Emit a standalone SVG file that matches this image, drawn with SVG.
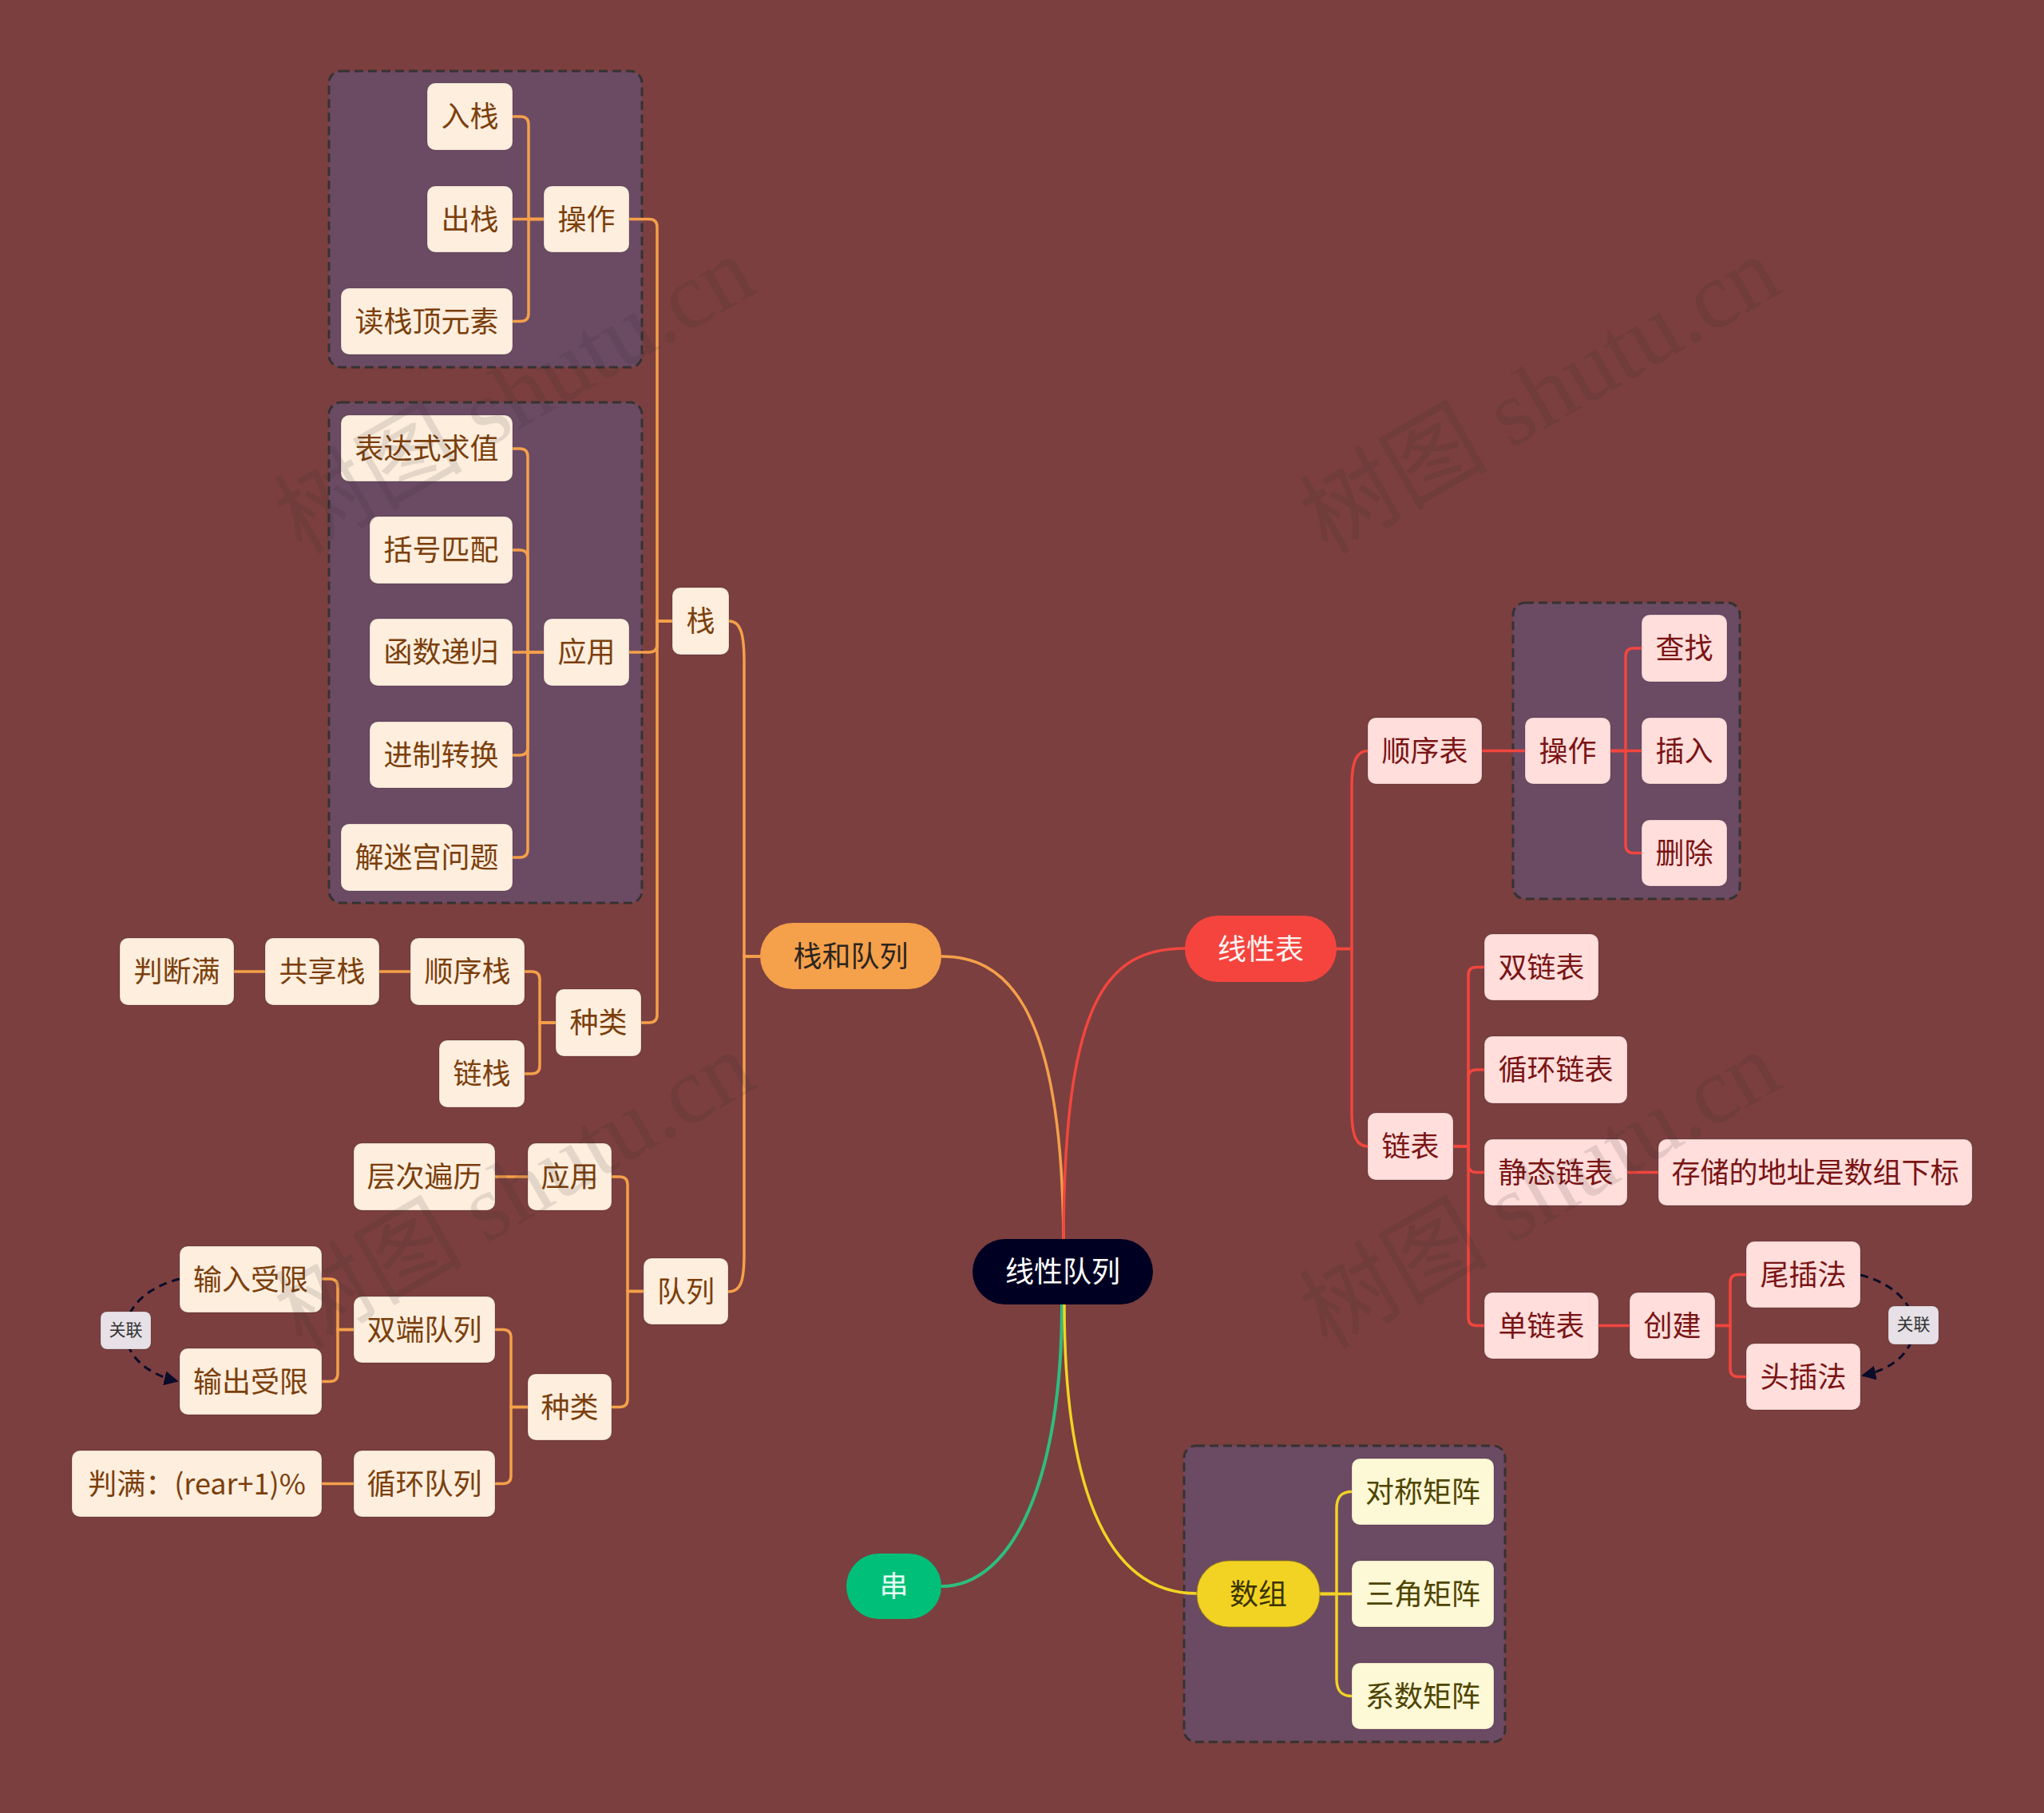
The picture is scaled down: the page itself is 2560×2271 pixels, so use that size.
<svg xmlns="http://www.w3.org/2000/svg" width="2560" height="2271" viewBox="0 0 2560 2271">
<defs>
<style>
text{font-family:"Noto Sans CJK SC","Noto Sans",sans-serif;font-size:36px;text-anchor:middle;dominant-baseline:central}
text:not(.wm){transform:translateY(-3px)}
.box{fill:#6B4A64;stroke:#363232;stroke-width:3;stroke-dasharray:11 6}
.o rect{fill:#FDEEDE;stroke:#000;stroke-opacity:0.12;stroke-width:1.5}
.o text{fill:#7B3F0C}
.r rect{fill:#FFDEDC;stroke:#000;stroke-opacity:0.12;stroke-width:1.5}
.r text{fill:#7A1414}
.y rect{fill:#FDF8D6;stroke:#000;stroke-opacity:0.12;stroke-width:1.5}
.y text{fill:#4E4400}
.lo{fill:none;stroke:#F5A04A;stroke-width:3.5}
.lr{fill:none;stroke:#F2463E;stroke-width:3.5}
.ly{fill:none;stroke:#F2D323;stroke-width:3.5}
.lg{fill:none;stroke:#2DBE80;stroke-width:4}
.rel{fill:none;stroke:#0B0B2A;stroke-width:3;stroke-dasharray:10 7}
.lab rect{fill:#E7E1E7;stroke:#000;stroke-opacity:0.15;stroke-width:1}
.lab text{fill:#333;font-size:21px}
.wm{font-family:"Liberation Serif","Noto Sans CJK SC",serif;font-size:118px;fill:#282828;fill-opacity:0.12;text-anchor:start;dominant-baseline:alphabetic}
</style>
<marker id="arr" viewBox="0 0 10 10" refX="9" refY="5" markerWidth="18" markerHeight="18" markerUnits="userSpaceOnUse" orient="auto">
<path d="M0,0 L10,5 L0,10 z" fill="#0B0B2A"/>
</marker>
</defs>
<rect width="2560" height="2271" fill="#7B3F3F"/>

<g id="boxes">
<rect class="box" x="412" y="89" width="392" height="371" rx="15"/>
<rect class="box" x="412" y="504" width="392" height="627" rx="15"/>
<rect class="box" x="1895" y="755" width="284" height="371" rx="15"/>
<rect class="box" x="1483" y="1811" width="402" height="371" rx="15"/>
</g>

<g id="connectors">
<path class="lo" d="M1179,1198 C1255,1198 1330,1250 1332,1552"/>
<path class="lr" d="M1332,1552 C1333,1255 1385,1188 1484,1188"/>
<path class="lg" d="M1330,1634 C1330,1850 1270,1987 1179,1987"/>
<path class="ly" d="M1333,1634 C1333,1850 1380,1996 1499,1996"/>

<path class="lo" d="M952,1198 H932 V830 C932,795 928,778 913,778"/>
<path class="lo" d="M952,1198 H932 V1570 C932,1605 928,1618 912,1618"/>

<path class="lo" d="M842,778 H823 V284.5 Q823,274.5 813,274.5 H788"/>
<path class="lo" d="M842,778 H823 V807 Q823,817 813,817 H788"/>
<path class="lo" d="M842,778 H823 V1271 Q823,1281 813,1281 H803"/>

<path class="lo" d="M681,274.5 H662 V156 Q662,146 652,146 H642"/>
<path class="lo" d="M681,274.5 H642"/>
<path class="lo" d="M681,274.5 H662 V392.5 Q662,402.5 652,402.5 H642"/>

<path class="lo" d="M681,817 H661 V572 Q661,562 651,562 H642"/>
<path class="lo" d="M681,817 H661 V699 Q661,689 651,689 H642"/>
<path class="lo" d="M681,817 H642"/>
<path class="lo" d="M681,817 H661 V936 Q661,946 651,946 H642"/>
<path class="lo" d="M681,817 H661 V1064 Q661,1074 651,1074 H642"/>

<path class="lo" d="M696,1281 H676 V1227 Q676,1217 666,1217 H657"/>
<path class="lo" d="M696,1281 H676 V1335 Q676,1345 666,1345 H657"/>
<path class="lo" d="M514,1217 H475"/>
<path class="lo" d="M332,1217 H293"/>

<path class="lo" d="M806,1617.5 H786 V1484 Q786,1474 776,1474 H766"/>
<path class="lo" d="M806,1617.5 H786 V1752.5 Q786,1762.5 776,1762.5 H766"/>
<path class="lo" d="M661,1474 H620"/>
<path class="lo" d="M661,1762.5 H640 V1675.5 Q640,1665.5 630,1665.5 H620"/>
<path class="lo" d="M661,1762.5 H640 V1848.5 Q640,1858.5 630,1858.5 H620"/>
<path class="lo" d="M443,1665.5 H423 V1612 Q423,1602 413,1602 H403"/>
<path class="lo" d="M443,1665.5 H423 V1720.5 Q423,1730.5 413,1730.5 H403"/>
<path class="lo" d="M443,1858.5 H403"/>

<path class="lr" d="M1674,1188.5 H1693 V985 C1693,952 1700,940.5 1713,940.5"/>
<path class="lr" d="M1674,1188.5 H1693 V1392 C1693,1425 1700,1436 1713,1436"/>
<path class="lr" d="M1856,940.5 H1910"/>
<path class="lr" d="M2017,940.5 H2036 V822 Q2036,812 2046,812 H2056"/>
<path class="lr" d="M2017,940.5 H2056"/>
<path class="lr" d="M2017,940.5 H2036 V1058.5 Q2036,1068.5 2046,1068.5 H2056"/>
<path class="lr" d="M1820,1436 H1839 V1221.5 Q1839,1211.5 1849,1211.5 H1859"/>
<path class="lr" d="M1820,1436 H1839 V1350 Q1839,1340 1849,1340 H1859"/>
<path class="lr" d="M1820,1436 H1839 V1458.5 Q1839,1468.5 1849,1468.5 H1859"/>
<path class="lr" d="M1820,1436 H1839 V1650.5 Q1839,1660.5 1849,1660.5 H1859"/>
<path class="lr" d="M2038,1468.5 H2077"/>
<path class="lr" d="M2002,1660.5 H2041"/>
<path class="lr" d="M2148,1660.5 H2167 V1606.5 Q2167,1596.5 2177,1596.5 H2187"/>
<path class="lr" d="M2148,1660.5 H2167 V1714.5 Q2167,1724.5 2177,1724.5 H2187"/>

<path class="ly" d="M1653,1996.5 H1674 V1890 C1674,1875 1680,1868.5 1693,1868.5"/>
<path class="ly" d="M1653,1996.5 H1693"/>
<path class="ly" d="M1653,1996.5 H1674 V2103 C1674,2118 1680,2124.5 1693,2124.5"/>

<path class="rel" d="M225,1602 C135,1625 135,1710 222,1730" marker-end="url(#arr)"/>
<path class="rel" d="M2330,1597 C2419,1620 2419,1705 2333,1723" marker-end="url(#arr)"/>
</g>

<g id="n-root"><rect x="1218" y="1552" width="226" height="82" rx="41" fill="#000022"/><text x="1331" y="1593" fill="#FFFFFF">线性队列</text></g>
<g id="n-zhdl"><rect x="952" y="1156" width="227" height="83" rx="41" fill="#F5A04A"/><text x="1065.5" y="1197.5" fill="#2B2520">栈和队列</text></g>
<g id="n-xxb"><rect x="1484" y="1147" width="190" height="83" rx="41" fill="#F5443E"/><text x="1579" y="1188.5" fill="#FFF4F2">线性表</text></g>
<g id="n-sz"><rect x="1499" y="1955" width="154" height="83" rx="40" fill="#F2D323" stroke="#8a7210" stroke-opacity="0.5" stroke-width="1.5"/><text x="1576" y="1996.5" fill="#3A3200">数组</text></g>
<g id="n-c"><rect x="1060" y="1946" width="119" height="82" rx="41" fill="#00BF78"/><text x="1119.5" y="1987" fill="#E4FFF2">串</text></g>

<g id="n-rz" class="o"><rect x="535" y="104" width="107" height="84" rx="10"/><text x="588.5" y="146">入栈</text></g>
<g id="n-cz" class="o"><rect x="535" y="233" width="107" height="83" rx="10"/><text x="588.5" y="274.5">出栈</text></g>
<g id="n-dzdys" class="o"><rect x="427" y="361" width="215" height="83" rx="10"/><text x="534.5" y="402.5">读栈顶元素</text></g>
<g id="n-cz2" class="o"><rect x="681" y="233" width="107" height="83" rx="10"/><text x="734.5" y="274.5">操作</text></g>
<g id="n-bds" class="o"><rect x="427" y="520" width="215" height="83" rx="10"/><text x="534.5" y="561.5">表达式求值</text></g>
<g id="n-khpp" class="o"><rect x="463" y="647" width="179" height="84" rx="10"/><text x="552.5" y="689">括号匹配</text></g>
<g id="n-hsdg" class="o"><rect x="463" y="775" width="179" height="84" rx="10"/><text x="552.5" y="817">函数递归</text></g>
<g id="n-jzzh" class="o"><rect x="463" y="904" width="179" height="83" rx="10"/><text x="552.5" y="945.5">进制转换</text></g>
<g id="n-jmg" class="o"><rect x="427" y="1032" width="215" height="84" rx="10"/><text x="534.5" y="1074">解迷宫问题</text></g>
<g id="n-yy" class="o"><rect x="681" y="775" width="107" height="84" rx="10"/><text x="734.5" y="817">应用</text></g>
<g id="n-z" class="o"><rect x="842" y="736" width="71" height="84" rx="10"/><text x="877.5" y="778">栈</text></g>
<g id="n-pdm" class="o"><rect x="150" y="1175" width="143" height="84" rx="10"/><text x="221.5" y="1217">判断满</text></g>
<g id="n-gxz" class="o"><rect x="332" y="1175" width="143" height="84" rx="10"/><text x="403.5" y="1217">共享栈</text></g>
<g id="n-sxz" class="o"><rect x="514" y="1175" width="143" height="84" rx="10"/><text x="585.5" y="1217">顺序栈</text></g>
<g id="n-lz" class="o"><rect x="550" y="1303" width="107" height="84" rx="10"/><text x="603.5" y="1345">链栈</text></g>
<g id="n-zl" class="o"><rect x="696" y="1239" width="107" height="84" rx="10"/><text x="749.5" y="1281">种类</text></g>
<g id="n-ccbl" class="o"><rect x="443" y="1432" width="177" height="84" rx="10"/><text x="531.5" y="1474">层次遍历</text></g>
<g id="n-yyq" class="o"><rect x="661" y="1432" width="105" height="84" rx="10"/><text x="713.5" y="1474">应用</text></g>
<g id="n-dl" class="o"><rect x="806" y="1576" width="106" height="83" rx="10"/><text x="859" y="1617.5">队列</text></g>
<g id="n-srsx" class="o"><rect x="225" y="1561" width="178" height="83" rx="10"/><text x="314" y="1602.5">输入受限</text></g>
<g id="n-sddl" class="o"><rect x="443" y="1624" width="177" height="83" rx="10"/><text x="531.5" y="1665.5">双端队列</text></g>
<g id="n-scsx" class="o"><rect x="225" y="1689" width="178" height="83" rx="10"/><text x="314" y="1730.5">输出受限</text></g>
<g id="n-zlq" class="o"><rect x="661" y="1721" width="105" height="83" rx="10"/><text x="713.5" y="1762.5">种类</text></g>
<g id="n-pm" class="o"><rect x="90" y="1817" width="313" height="83" rx="10"/><text x="246.5" y="1858.5">判满：(rear+1)%</text></g>
<g id="n-xhdl" class="o"><rect x="443" y="1817" width="177" height="83" rx="10"/><text x="531.5" y="1858.5">循环队列</text></g>

<g id="n-sxb" class="r"><rect x="1713" y="899" width="143" height="83" rx="10"/><text x="1784.5" y="940.5">顺序表</text></g>
<g id="n-czr" class="r"><rect x="1910" y="899" width="107" height="83" rx="10"/><text x="1963.5" y="940.5">操作</text></g>
<g id="n-cz3" class="r"><rect x="2056" y="770" width="107" height="84" rx="10"/><text x="2109.5" y="812">查找</text></g>
<g id="n-cr" class="r"><rect x="2056" y="899" width="107" height="83" rx="10"/><text x="2109.5" y="940.5">插入</text></g>
<g id="n-sc" class="r"><rect x="2056" y="1027" width="107" height="83" rx="10"/><text x="2109.5" y="1068.5">删除</text></g>
<g id="n-slb" class="r"><rect x="1859" y="1170" width="143" height="83" rx="10"/><text x="1930.5" y="1211.5">双链表</text></g>
<g id="n-xhlb" class="r"><rect x="1859" y="1298" width="179" height="84" rx="10"/><text x="1948.5" y="1340">循环链表</text></g>
<g id="n-jtlb" class="r"><rect x="1859" y="1427" width="179" height="83" rx="10"/><text x="1948.5" y="1468.5">静态链表</text></g>
<g id="n-ccdz" class="r"><rect x="2077" y="1427" width="393" height="83" rx="10"/><text x="2273.5" y="1468.5">存储的地址是数组下标</text></g>
<g id="n-lb" class="r"><rect x="1713" y="1394" width="107" height="84" rx="10"/><text x="1766.5" y="1436">链表</text></g>
<g id="n-dlb" class="r"><rect x="1859" y="1619" width="143" height="83" rx="10"/><text x="1930.5" y="1660.5">单链表</text></g>
<g id="n-cj" class="r"><rect x="2041" y="1619" width="107" height="83" rx="10"/><text x="2094.5" y="1660.5">创建</text></g>
<g id="n-wcf" class="r"><rect x="2187" y="1555" width="143" height="83" rx="10"/><text x="2258.5" y="1596.5">尾插法</text></g>
<g id="n-tcf" class="r"><rect x="2187" y="1683" width="143" height="83" rx="10"/><text x="2258.5" y="1724.5">头插法</text></g>

<g id="n-dcjz" class="y"><rect x="1693" y="1827" width="178" height="83" rx="10"/><text x="1782" y="1868.5">对称矩阵</text></g>
<g id="n-sjjz" class="y"><rect x="1693" y="1955" width="178" height="83" rx="10"/><text x="1782" y="1996.5">三角矩阵</text></g>
<g id="n-xsjz" class="y"><rect x="1693" y="2083" width="178" height="83" rx="10"/><text x="1782" y="2124.5">系数矩阵</text></g>

<g id="lab-left" class="lab"><rect x="126" y="1643" width="63" height="47" rx="8"/><text x="157.5" y="1666.5">关联</text></g>
<g id="lab-right" class="lab"><rect x="2365" y="1636" width="63" height="48" rx="8"/><text x="2396.5" y="1660">关联</text></g>

<g id="watermark">
<text class="wm" x="378" y="695" transform="rotate(-30 378 695)">树图 shutu.cn</text>
<text class="wm" x="1662" y="695" transform="rotate(-30 1662 695)">树图 shutu.cn</text>
<text class="wm" x="378" y="1691" transform="rotate(-30 378 1691)">树图 shutu.cn</text>
<text class="wm" x="1662" y="1691" transform="rotate(-30 1662 1691)">树图 shutu.cn</text>
</g>
</svg>
